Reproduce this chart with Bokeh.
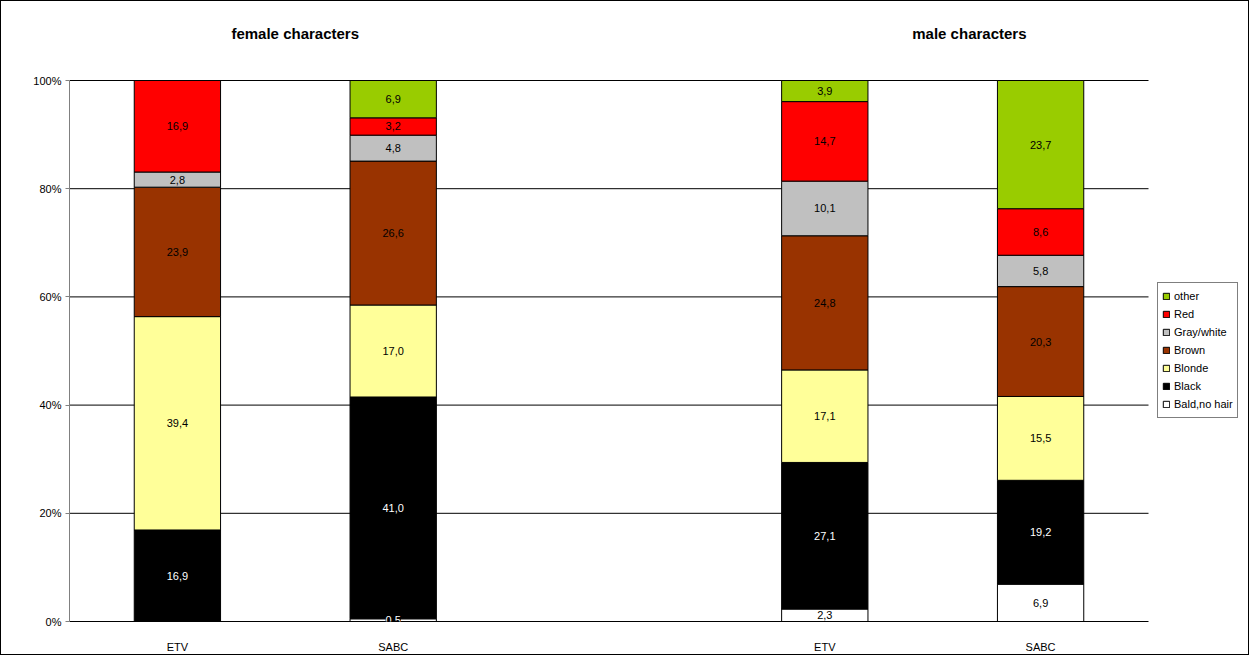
from bokeh.plotting import figure
from bokeh.models import (Range1d, FixedTicker, Legend, LegendItem, LabelSet,
                          Label, ColumnDataSource)
from bokeh.core.properties import value
from bokeh.embed import file_html
from bokeh.resources import INLINE

# Hair colour of characters, share per channel (%)
channels = ["ETV", "SABC", "ETV", "SABC"]
groups = ["female characters", "male characters"]
hair_types = ["Bald,no hair", "Black", "Blonde", "Brown", "Gray/white", "Red", "other"]

bald = [0.0, 0.5, 2.3, 6.9]
black = [16.9, 41.0, 27.1, 19.2]
blonde = [39.4, 17.0, 17.1, 15.5]
brown = [23.9, 26.6, 24.8, 20.3]
gray = [2.8, 4.8, 10.1, 5.8]
red = [16.9, 3.2, 14.7, 8.6]
other = [0.0, 6.9, 3.9, 23.7]

series = [bald, black, blonde, brown, gray, red, other]
colors = ["#FFFFFF", "#000000", "#FFFF99", "#993300", "#C0C0C0", "#FF0000", "#99CC00"]
label_colors = ["black", "white", "black", "black", "black", "black", "black"]
ticks = [0, 20, 40, 60, 80, 100]

# slot positions: two bars per group, one empty slot between groups
xpos = [0.5, 1.5, 3.5, 4.5]

# 100% stacked: normalise each bar to its total
totals = [sum(s[i] for s in series) for i in range(len(xpos))]
data = {"x": xpos}
for name, s in zip(hair_types, series):
    data[name] = [v / t * 100 for v, t in zip(s, totals)]
src = ColumnDataSource(data)

# chart area: x 0..5 spans 1079 px, y 0..100 spans 541 px;
# extra room above holds the group titles, extra room right holds the legend
px_x = 1079 / 5
px_y = 541 / 100
x_end = 5 + 102 / px_x
y_top = 100 + 60 / px_y

FONT = "Liberation Sans"

p = figure(width=1249, height=655, x_range=Range1d(0, x_end), y_range=Range1d(0, y_top),
           output_backend="svg", toolbar_location=None,
           min_border_left=68, min_border_right=0,
           min_border_top=19, min_border_bottom=35)
p.styles = {"border": "1px solid black"}
p.outline_line_color = None
p.background_fill_color = "white"
p.border_fill_color = "white"

# horizontal gridlines across the chart area only
gl = [t for t in ticks if t > 0]
p.segment(x0=[0] * len(gl), x1=[5] * len(gl), y0=gl, y1=gl,
          line_color="black", line_width=1, level="underlay")

renderers = p.vbar_stack(hair_types, x="x", width=0.4, source=src,
                         fill_color=colors, line_color="black", line_width=1)

# segment value labels
lx, ly, lt, lc = [], [], [], []
sx, sy, st = [], [], []
for k, s in enumerate(series):
    for i, v in enumerate(s):
        if v <= 0:
            continue
        bottom = sum(series[j][i] for j in range(k)) / totals[i] * 100
        mid = bottom + v / totals[i] * 50
        txt = f"{v:.1f}".replace(".", ",")
        if v < 1:
            sx.append(xpos[i]); sy.append(mid); st.append(txt)
        else:
            lx.append(xpos[i]); ly.append(mid); lt.append(txt); lc.append(label_colors[k])

p.add_layout(LabelSet(x="x", y="y", text="t", text_color="c",
                      source=ColumnDataSource(dict(x=lx, y=ly, t=lt, c=lc)),
                      text_align="center", text_baseline="middle",
                      text_font=value(FONT), text_font_size=value("11px")))
p.add_layout(LabelSet(x="x", y="y", text="t",
                      source=ColumnDataSource(dict(x=sx, y=sy, t=st)),
                      text_align="center", text_baseline="middle",
                      text_color="white", background_fill_color="black",
                      text_font=value(FONT), text_font_size=value("11px")))

# group titles
for gx, g in zip([1.046, 4.17], groups):
    p.add_layout(Label(x=gx, y=100 + 47 / px_y, text=g,
                       text_align="center", text_baseline="middle",
                       text_font=FONT, text_font_style="bold",
                       text_font_size="15px", text_color="black"))

# axes
p.yaxis.ticker = FixedTicker(ticks=ticks)
p.yaxis.bounds = (0, 100)
p.yaxis.major_label_overrides = {t: f"{t}%" for t in ticks}
p.yaxis.axis_line_color = "#808080"
p.yaxis.major_tick_line_color = "#808080"
p.yaxis.major_tick_in = 0
p.yaxis.major_tick_out = 4
p.yaxis.minor_tick_line_color = None
p.yaxis.major_label_standoff = 4
p.yaxis.major_label_text_font = FONT
p.yaxis.major_label_text_font_size = "11px"
p.yaxis.major_label_text_color = "black"

p.xaxis.ticker = FixedTicker(ticks=xpos)
p.xaxis.bounds = (0, 5)
p.xaxis.major_label_overrides = {x: c for x, c in zip(xpos, channels)}
p.xaxis.axis_line_color = "black"
p.xaxis.major_tick_line_color = None
p.xaxis.minor_tick_line_color = None
p.xaxis.major_label_standoff = 13
p.xaxis.major_label_text_font = FONT
p.xaxis.major_label_text_font_size = "11px"
p.xaxis.major_label_text_color = "black"

p.xgrid.grid_line_color = None
p.ygrid.grid_line_color = None

legend = Legend(items=[LegendItem(label=n, renderers=[r])
                       for n, r in reversed(list(zip(hair_types, renderers)))],
                location=(1088, 203), orientation="vertical",
                border_line_color="black", border_line_width=1,
                background_fill_color="white", background_fill_alpha=1,
                padding=4, spacing=0, margin=0,
                glyph_width=8, glyph_height=8, label_height=18, label_standoff=4,
                label_text_font=FONT, label_text_font_size="11px",
                label_text_color="black")
p.add_layout(legend, "center")

open("out.html", "w").write(file_html(p, INLINE))
